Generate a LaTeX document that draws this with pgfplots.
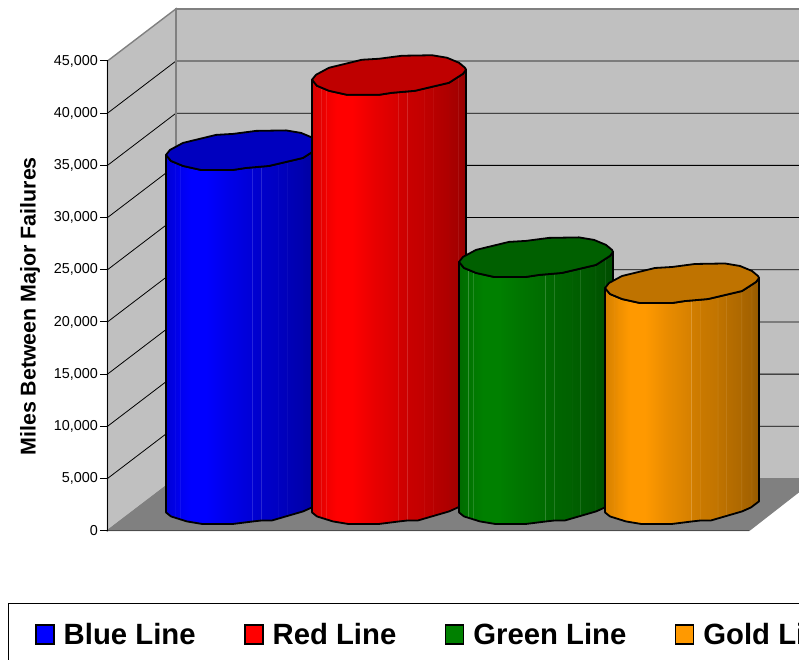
\documentclass[border=0pt]{standalone}
\usepackage{fontspec}
\setmainfont{Liberation Sans}
\usepackage{pgfplots}
\usepackage{pgfplotstable}
\pgfplotsset{compat=1.18}

% cylinder body shading: c = base colour, stops 25bp..75bp span the body
\newcommand\declcyl[2]{%
  \pgfdeclarehorizontalshading{#1}{100bp}{%
    color(0bp)=(#2!84!black); color(25bp)=(#2!84!black);
    color(27.9bp)=(#2!90!black); color(27.95bp)=(#2!90!black!72!white); color(28.1bp)=(#2!90!black);
    color(29.5bp)=(#2!94!black); color(29.55bp)=(#2!94!black!72!white); color(29.7bp)=(#2!94!black);
    color(33bp)=(#2); color(38bp)=(#2);
    color(44.5bp)=(#2!92!black);
    color(52.9bp)=(#2!84!black); color(52.95bp)=(#2!84!black!75!white); color(53.1bp)=(#2!82!black);
    color(55.8bp)=(#2!80!black); color(55.85bp)=(#2!80!black!78!white); color(56bp)=(#2!79!black);
    color(61.4bp)=(#2!76!black); color(61.45bp)=(#2!76!black!75!white); color(61.6bp)=(#2!75!black);
    color(64.3bp)=(#2!73!black); color(64.35bp)=(#2!73!black!78!white); color(64.5bp)=(#2!72!black);
    color(69.2bp)=(#2!68!black); color(69.25bp)=(#2!68!black!78!white); color(69.4bp)=(#2!67!black);
    color(72.4bp)=(#2!64!black); color(72.45bp)=(#2!64!black!80!white); color(72.6bp)=(#2!63!black);
    color(75bp)=(#2!58!black); color(100bp)=(#2!58!black)}%
}
\definecolor{cblue}{HTML}{0000FF}
\definecolor{cred}{HTML}{FF0000}
\definecolor{cgreen}{HTML}{008000}
\definecolor{cgold}{HTML}{FF9900}
\definecolor{wallc}{HTML}{C0C0C0}
\definecolor{edgec}{HTML}{808080}
\declcyl{shblue}{cblue}
\declcyl{shred}{cred}
\declcyl{shgreen}{cgreen}
\declcyl{shgold}{cgold}

% outline of the top cap, dx and dy in px from its left end
\pgfplotstableread{
dx dy
0 0
4 5
17 12
50 20
67 21
90 24
120 24.5
135 22
147 17
153 12
154 10
151 6
137 -3
103 -11
80 -13
67 -15
35 -15
17 -11
5 -6
}\captable

% body outline, lvl 1 = at top of the cylinder, lvl 0 = at floor
\pgfplotstableread{
dx dy lvl
0 0 1
5 -6 1
17 -11 1
35 -15 1
67 -15 1
80 -13 1
103 -11 1
137 -3 1
151 6 1
154 10 1
154 11 0
146 5 0
137 1 0
106 -8 0
96 -8 0
87 -9 0
67 -11.5 0
36 -11.5 0
21 -9 0
5 -4 0
0 0 0
}\bodytable

% #1 left x, #2 value, #3 shading, #4 cap colour
\newcommand\cyl[4]{%
  \addplot[shading=#3, draw=black, line width=1.8pt, line join=round]
    table[x expr=\thisrow{dx}+#1, y expr=1750+\thisrow{lvl}*#2+\thisrow{dy}*95.95] {\bodytable} -- cycle;
  \addplot[fill=#4, draw=black, line width=1.8pt, line join=round]
    table[x expr=\thisrow{dx}+#1, y expr=1750+#2+\thisrow{dy}*95.95] {\captable} -- cycle;
}

\begin{document}
\begin{tikzpicture}
\path[use as bounding box, clip] (0pt,0pt) rectangle (799pt,660pt);
\begin{axis}[
  at={(107.5pt,129.3pt)}, anchor=south west,
  scale only axis, width=641.5pt, height=469.7pt,
  xmin=107.5, xmax=749, ymin=0, ymax=45000,
  clip=false, axis on top,
  hide x axis, axis y line=left, axis line style={-, black, line width=1pt},
  xtick=\empty,
  ytick={0,5000,10000,15000,20000,25000,30000,35000,40000,45000},
  tick align=outside, major tick length=7.5pt, tick style={black, line width=1pt},
  scaled y ticks=false,
  /pgf/number format/fixed, /pgf/number format/1000 sep={,},
  /pgf/number format/assume math mode=true,
  yticklabel style={font=\fontsize{14.4}{16}\selectfont, inner sep=2pt},
  ylabel={Miles Between Major Failures},
  every axis y label/.style={at={(axis cs:30,21493)}, rotate=90, anchor=center,
    font=\fontsize{21.4}{24}\selectfont\bfseries},
  every axis plot/.append style={forget plot},
  legend columns=4,
  legend image code/.code={\draw[#1, draw=black, line width=1.3pt] (0pt,-9.5pt) rectangle (18pt,9.5pt);},
  legend style={at={(axis cs:8,-6910)}, anchor=north west, draw=black, line width=0.9pt,
    font=\fontsize{29.3}{34}\selectfont\bfseries, inner xsep=27pt, inner ysep=18pt,
    /tikz/every even column/.append style={column sep=46.7pt},
    /tikz/every odd column/.append style={column sep=7pt},
    cells={anchor=west}},
]
% walls and floor
\addplot[fill=wallc, draw=edgec, line width=1.4pt] coordinates {(176,5000) (816,5000) (816,50000) (176,50000)} -- cycle;
\addplot[fill=wallc, draw=edgec, line width=1.4pt] coordinates {(107.5,0) (176,5000) (176,50000) (107.5,45000)} -- cycle;
\addplot[fill=edgec, draw=edgec, line width=1pt] coordinates {(107.5,0) (176,5000) (816,5000) (749,0)} -- cycle;
\addplot[draw=black!70, line width=1.2pt] coordinates {(107.5,0) (749,0)};
% grid on the side and back walls
\addplot[black, line width=0.8pt] coordinates {(107.5,5000) (176,10000) (816,10000)};
\addplot[black, line width=0.8pt] coordinates {(107.5,10000) (176,15000) (816,15000)};
\addplot[black, line width=0.8pt] coordinates {(107.5,15000) (176,20000) (816,20000)};
\addplot[black, line width=0.8pt] coordinates {(107.5,20000) (176,25000) (816,25000)};
\addplot[black, line width=0.8pt] coordinates {(107.5,25000) (176,30000) (816,30000)};
\addplot[black, line width=0.8pt] coordinates {(107.5,30000) (176,35000) (816,35000)};
\addplot[black, line width=0.8pt] coordinates {(107.5,35000) (176,40000) (816,40000)};
\addplot[black, line width=0.8pt] coordinates {(107.5,40000) (176,45000) (816,45000)};
\addplot[edgec, line width=1.4pt] coordinates {(176,5000) (176,50000)};
% cylinders
\cyl{166}{34250}{shblue}{blue!75!black}
\cyl{312}{41450}{shred}{red!75!black}
\cyl{459}{24000}{shgreen}{green!37.6!black}
\cyl{605}{21500}{shgold}{cgold!75!black}
% legend
\addlegendimage{fill=cblue}\addlegendentry{Blue Line}
\addlegendimage{fill=cred}\addlegendentry{Red Line}
\addlegendimage{fill=cgreen}\addlegendentry{Green Line}
\addlegendimage{fill=cgold}\addlegendentry{Gold Line}
\end{axis}
\end{tikzpicture}
\end{document}
